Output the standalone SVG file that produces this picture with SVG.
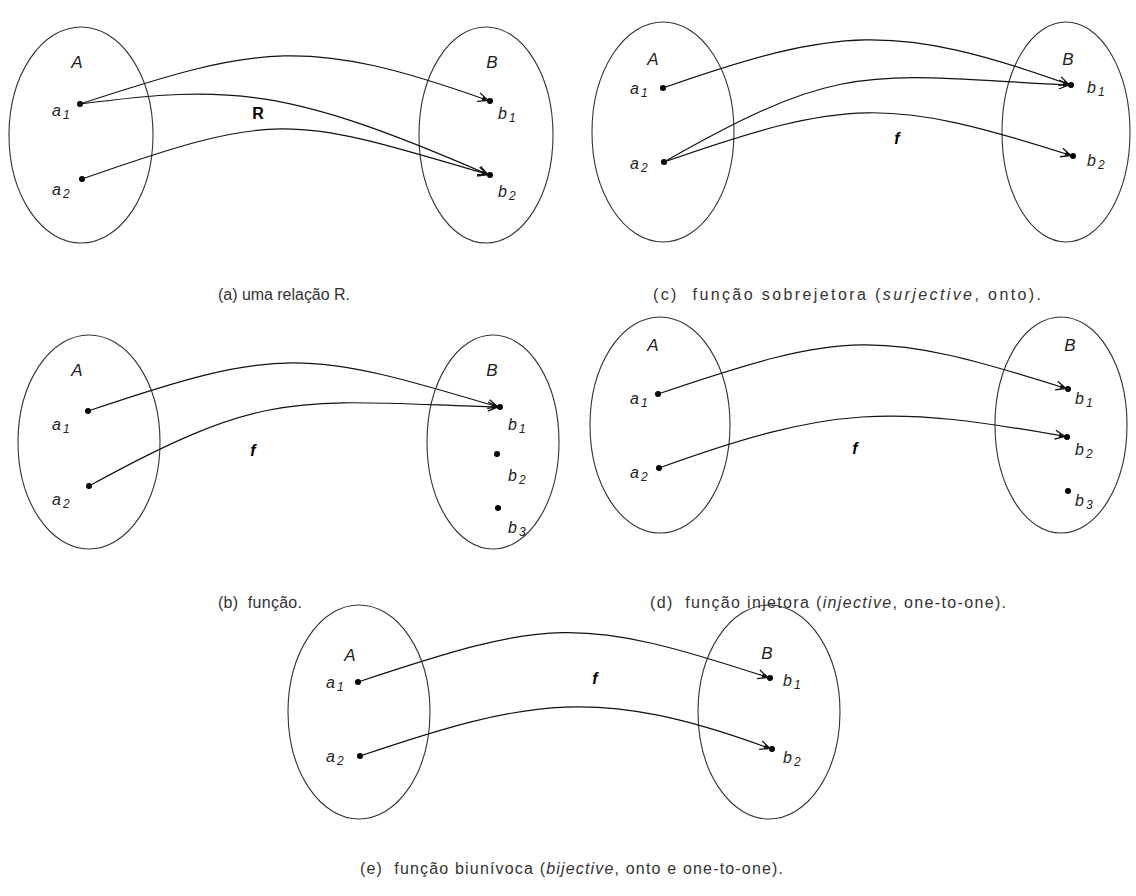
<svg xmlns="http://www.w3.org/2000/svg" width="1136" height="896" viewBox="0 0 1136 896">
<defs>
<style>
.set{fill:none;stroke:#333;stroke-width:1.1}
.dot{fill:#000}
.arr{fill:none;stroke:#111;stroke-width:1.2;marker-end:url(#ah)}
.setlbl{font-family:"Liberation Sans",Arial,sans-serif;font-style:italic;font-size:17px;fill:#222;text-anchor:middle}
.el{font-family:"Liberation Sans",Arial,sans-serif;font-style:italic;font-size:16px;fill:#222}
.sub{font-size:12px}
.fn{font-family:"Liberation Sans",Arial,sans-serif;font-weight:bold;font-style:italic;font-size:16px;fill:#000;text-anchor:middle}
.rel{font-family:"Liberation Sans",Arial,sans-serif;font-weight:bold;font-size:16px;fill:#000;text-anchor:middle}
.cap{font-family:"Liberation Sans",Arial,sans-serif;font-size:16px;fill:#333;white-space:pre}
.it{font-style:italic}
</style>
<marker id="ah" markerUnits="userSpaceOnUse" viewBox="-12 -6 14 12" refX="0" refY="0" markerWidth="14" markerHeight="12" orient="auto">
<path d="M-10,-4.5 L0,0 L-10,4.5" fill="none" stroke="#111" stroke-width="1.3"/>
<path d="M-6,-2.2 L0,0 L-6,2.2 Z" fill="#111"/>
</marker>
</defs>
<rect width="1136" height="896" fill="#fff"/>

<!-- Panel (a) -->
<g id="a-setA"><ellipse class="set" cx="81" cy="135" rx="72" ry="108"/><text class="setlbl" x="77" y="68">A</text></g>
<g id="a-setB"><ellipse class="set" cx="486" cy="135" rx="67" ry="108"/><text class="setlbl" x="492" y="68">B</text></g>
<g id="a-a1"><circle class="dot" cx="80" cy="104" r="3"/><text class="el" x="52" y="116">a<tspan class="sub" dx="2" dy="3">1</tspan></text></g>
<g id="a-a2"><circle class="dot" cx="82" cy="179" r="3"/><text class="el" x="52" y="195">a<tspan class="sub" dx="2" dy="3">2</tspan></text></g>
<g id="a-b1"><circle class="dot" cx="490" cy="101" r="3"/><text class="el" x="498" y="119">b<tspan class="sub" dx="2" dy="3">1</tspan></text></g>
<g id="a-b2"><circle class="dot" cx="490" cy="175" r="3"/><text class="el" x="498" y="197">b<tspan class="sub" dx="2" dy="3">2</tspan></text></g>
<g id="a-label"><text class="rel" x="258" y="119">R</text></g>
<text class="cap" x="218" y="300" textLength="132" lengthAdjust="spacing">(a) uma relação R.</text>

<!-- Panel (c) -->
<g id="c-setA"><ellipse class="set" cx="663" cy="132" rx="71" ry="110"/><text class="setlbl" x="653" y="65">A</text></g>
<g id="c-setB"><ellipse class="set" cx="1066" cy="132" rx="64" ry="110"/><text class="setlbl" x="1068" y="65">B</text></g>
<g id="c-a1"><circle class="dot" cx="663" cy="88" r="3"/><text class="el" x="630" y="94">a<tspan class="sub" dx="2" dy="3">1</tspan></text></g>
<g id="c-a2"><circle class="dot" cx="664" cy="162" r="3"/><text class="el" x="630" y="169">a<tspan class="sub" dx="2" dy="3">2</tspan></text></g>
<g id="c-b1"><circle class="dot" cx="1071" cy="85" r="3"/><text class="el" x="1087" y="93">b<tspan class="sub" dx="2" dy="3">1</tspan></text></g>
<g id="c-b2"><circle class="dot" cx="1073" cy="156" r="3"/><text class="el" x="1087" y="166">b<tspan class="sub" dx="2" dy="3">2</tspan></text></g>
<g id="c-label"><text class="fn" x="897" y="144">f</text></g>
<text class="cap" x="653" y="300" textLength="388" lengthAdjust="spacing">(c)  função sobrejetora (<tspan class="it">surjective</tspan>, onto).</text>

<!-- Panel (b) -->
<g id="b-setA"><ellipse class="set" cx="89" cy="442" rx="71" ry="107"/><text class="setlbl" x="77" y="376">A</text></g>
<g id="b-setB"><ellipse class="set" cx="493" cy="442" rx="66" ry="107"/><text class="setlbl" x="492" y="376">B</text></g>
<g id="b-a1"><circle class="dot" cx="88" cy="411" r="3"/><text class="el" x="52" y="430">a<tspan class="sub" dx="2" dy="3">1</tspan></text></g>
<g id="b-a2"><circle class="dot" cx="89" cy="486" r="3"/><text class="el" x="52" y="505">a<tspan class="sub" dx="2" dy="3">2</tspan></text></g>
<g id="b-b1"><circle class="dot" cx="500" cy="407" r="3"/><text class="el" x="508" y="430">b<tspan class="sub" dx="2" dy="3">1</tspan></text></g>
<g id="b-b2"><circle class="dot" cx="497" cy="454" r="3"/><text class="el" x="508" y="481">b<tspan class="sub" dx="2" dy="3">2</tspan></text></g>
<g id="b-b3"><circle class="dot" cx="498" cy="508" r="3"/><text class="el" x="508" y="533">b<tspan class="sub" dx="2" dy="3">3</tspan></text></g>
<g id="b-label"><text class="fn" x="253" y="456">f</text></g>
<text class="cap" x="218" y="608" textLength="84" lengthAdjust="spacing">(b)  função.</text>

<!-- Panel (d) -->
<g id="d-setA"><ellipse class="set" cx="660" cy="425" rx="70" ry="108"/><text class="setlbl" x="653" y="351">A</text></g>
<g id="d-setB"><ellipse class="set" cx="1061" cy="425" rx="66" ry="108"/><text class="setlbl" x="1070" y="351">B</text></g>
<g id="d-a1"><circle class="dot" cx="658" cy="394" r="3"/><text class="el" x="630" y="404">a<tspan class="sub" dx="2" dy="3">1</tspan></text></g>
<g id="d-a2"><circle class="dot" cx="659" cy="468" r="3"/><text class="el" x="630" y="478">a<tspan class="sub" dx="2" dy="3">2</tspan></text></g>
<g id="d-b1"><circle class="dot" cx="1068" cy="389" r="3"/><text class="el" x="1075" y="404">b<tspan class="sub" dx="2" dy="3">1</tspan></text></g>
<g id="d-b2"><circle class="dot" cx="1067" cy="437" r="3"/><text class="el" x="1075" y="455">b<tspan class="sub" dx="2" dy="3">2</tspan></text></g>
<g id="d-b3"><circle class="dot" cx="1068" cy="491" r="3"/><text class="el" x="1075" y="506">b<tspan class="sub" dx="2" dy="3">3</tspan></text></g>
<g id="d-label"><text class="fn" x="855" y="454">f</text></g>
<text class="cap" x="650" y="608" textLength="356" lengthAdjust="spacing">(d)  função injetora (<tspan class="it">injective</tspan>, one-to-one).</text>

<!-- Panel (e) -->
<g id="e-setA"><ellipse class="set" cx="359" cy="712" rx="71" ry="107"/><text class="setlbl" x="350" y="661">A</text></g>
<g id="e-setB"><ellipse class="set" cx="769" cy="712" rx="71" ry="107"/><text class="setlbl" x="767" y="659">B</text></g>
<g id="e-a1"><circle class="dot" cx="358" cy="682" r="3"/><text class="el" x="326" y="688">a<tspan class="sub" dx="2" dy="3">1</tspan></text></g>
<g id="e-a2"><circle class="dot" cx="360" cy="756" r="3"/><text class="el" x="326" y="762">a<tspan class="sub" dx="2" dy="3">2</tspan></text></g>
<g id="e-b1"><circle class="dot" cx="770" cy="678" r="3"/><text class="el" x="783" y="686">b<tspan class="sub" dx="2" dy="3">1</tspan></text></g>
<g id="e-b2"><circle class="dot" cx="772" cy="749" r="3"/><text class="el" x="783" y="763">b<tspan class="sub" dx="2" dy="3">2</tspan></text></g>
<g id="e-label"><text class="fn" x="595" y="684">f</text></g>
<text class="cap" x="360" y="874" textLength="423" lengthAdjust="spacing">(e)  função biunívoca (<tspan class="it">bijective</tspan>, onto e one-to-one).</text>

<g id="connectors">
<path class="arr" d="M80,104 C260,45 307,36 488,100.5"/>
<path class="arr" d="M80,104 C230,84.5 287,87 488,174.5"/>
<path class="arr" d="M82,179 C279,110 290,116 488,174.5"/>
<path class="arr" d="M663,88 C838,27 894,22 1069,84.5"/>
<path class="arr" d="M664,162 C844,59 869,75 1069,85"/>
<path class="arr" d="M664,162 C847,98 888,97 1071,155.5"/>
<path class="arr" d="M88,411 C280,346 305,349 498,407"/>
<path class="arr" d="M89,486 C269,387 297,401 498,407"/>
<path class="arr" d="M658,394 C846,330 878,329 1066,388.5"/>
<path class="arr" d="M659,468 C834,405 890,405.5 1065,436.5"/>
<path class="arr" d="M358,682 C548,619 578,615 768,677.5"/>
<path class="arr" d="M360,756 C531,698 599,686 770,748.5"/>
</g>
</svg>
